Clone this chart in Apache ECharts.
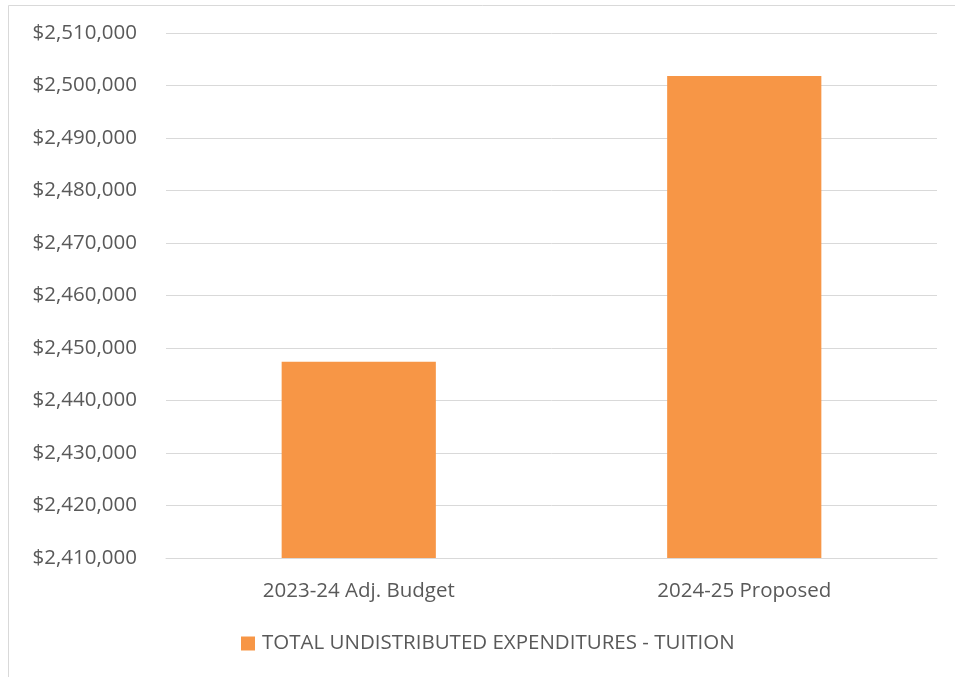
<!DOCTYPE html>
<html>
<head>
<meta charset="utf-8">
<script src="https://cdn.jsdelivr.net/npm/echarts@6/dist/echarts.min.js"></script>
<style>
  html, body { margin: 0; padding: 0; background: #ffffff; }
  #chart { width: 955px; height: 677px; }
</style>
</head>
<body>
<div id="chart"></div>
<script>
// Budget categories and tuition expenditure values
const categories = ['2023-24 Adj. Budget', '2024-25 Proposed'];
const seriesName = 'TOTAL UNDISTRIBUTED EXPENDITURES - TUITION';
const tuitionValues = [2447400, 2501800];
const axisMin = 2410000;
const axisMax = 2510000;
const axisStep = 10000;

const chart = echarts.init(document.getElementById('chart'));
const labelFont = '"Open Sans", Lato, sans-serif';

chart.setOption({
  animation: false,
  backgroundColor: '#ffffff',
  graphic: [{
    type: 'rect',
    shape: { x: 8.5, y: 5.5, width: 960, height: 700 },
    style: { fill: 'none', stroke: '#d9d9d9', lineWidth: 1 },
    silent: true
  }],
  grid: { left: 166, right: 18, top: 33, bottom: 119, containLabel: false },
  legend: {
    data: [seriesName],
    bottom: 18,
    left: 236,
    icon: 'rect',
    itemWidth: 14,
    itemHeight: 14,
    itemGap: 7,
    textStyle: { color: '#595959', fontSize: 20.5, fontFamily: labelFont, padding: [0, 0, 0, 2] }
  },
  xAxis: {
    type: 'category',
    data: categories,
    axisLine: { show: true, lineStyle: { color: '#d9d9d9', width: 1 } },
    axisTick: { show: false },
    axisLabel: { color: '#595959', fontSize: 20.5, fontFamily: labelFont, margin: 23 }
  },
  yAxis: {
    type: 'value',
    min: axisMin,
    max: axisMax,
    interval: axisStep,
    axisLine: { show: false },
    axisTick: { show: false },
    splitLine: { lineStyle: { color: '#d9d9d9', width: 1 } },
    axisLabel: {
      color: '#595959', fontSize: 20.5, fontFamily: labelFont, margin: 29,
      formatter: v => '$' + v.toLocaleString('en-US')
    }
  },
  series: [{
    name: seriesName,
    type: 'bar',
    data: tuitionValues,
    barWidth: '40%',
    itemStyle: { color: '#f79646' }
  }]
});
</script>
</body>
</html>
